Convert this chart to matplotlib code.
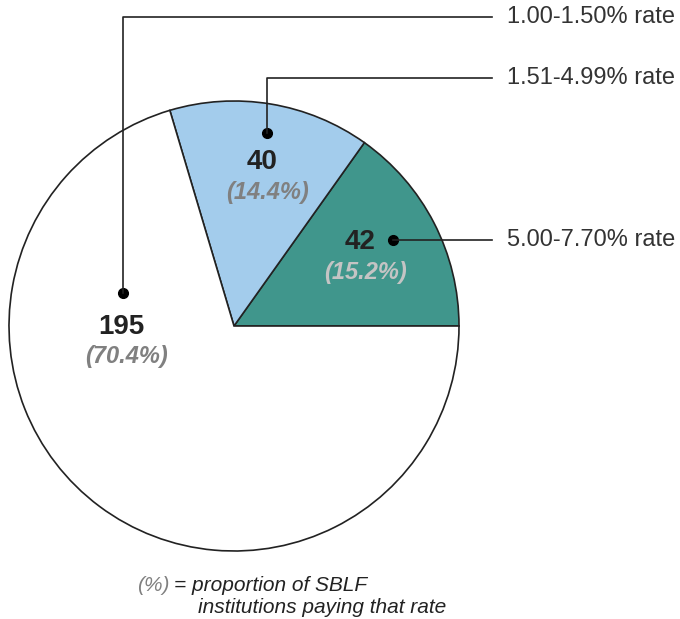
import numpy as np
import matplotlib
matplotlib.use("Agg")
import matplotlib.pyplot as plt

plt.rcParams['font.family'] = ['Liberation Sans', 'DejaVu Sans']

# Data
counts = [42, 40, 195]
shares = ['(15.2%)', '(14.4%)', '(70.4%)']
rate_labels = ['5.00-7.70% rate', '1.51-4.99% rate', '1.00-1.50% rate']
slice_colors = ['#40968c', '#a3ccec', '#ffffff']
share_colors = ['#c4c4c4', '#808080', '#808080']

H = 619
fig = plt.figure(figsize=(6.8, 6.19), dpi=100)
ax = fig.add_axes([0, 0, 1, 1])

cx, cy, r = 234, H - 326, 225
ax.pie(counts, colors=slice_colors, startangle=0, counterclock=True,
       center=(cx, cy), radius=r, frame=True,
       wedgeprops=dict(edgecolor='#222222', linewidth=1.2))
ax.set_xlim(0, 680)
ax.set_ylim(0, H)
ax.axis('off')

# label positions (pixel coords, y from top)
num_pos = [(360, 242), (262, 162), (121, 327)]
dot_pos = [(393, 240), (267, 133), (123, 293)]
line_y = [240, 78, 17]

for i in range(3):
    x, y = num_pos[i]
    ax.text(x, H - y, str(counts[i]), ha='center', va='center',
            fontsize=20, fontweight='bold', color='#222222')
    ax.text(x + 6, H - y - 30, shares[i], ha='center', va='center',
            fontsize=17, fontweight='bold', fontstyle='italic', color=share_colors[i])
    dx, dy = dot_pos[i]
    ax.plot(dx, H - dy, 'o', color='black', markersize=7)
    ax.plot([dx, dx, 492], [H - dy, H - line_y[i], H - line_y[i]],
            color='#222222', linewidth=1.2)
    ax.text(507, H - line_y[i], rate_labels[i], ha='left', va='center',
            fontsize=17, color='#333333')

# footnote
ax.text(137, H - 591, '(%)', ha='left', va='baseline', fontsize=15,
        fontstyle='italic', color='#808080')
ax.text(174, H - 591, '= proportion of SBLF', ha='left', va='baseline',
        fontsize=15, fontstyle='italic', color='#222222')
ax.text(198, H - 613, 'institutions paying that rate', ha='left', va='baseline',
        fontsize=15, fontstyle='italic', color='#222222')

fig.savefig('out.png', dpi=100)
